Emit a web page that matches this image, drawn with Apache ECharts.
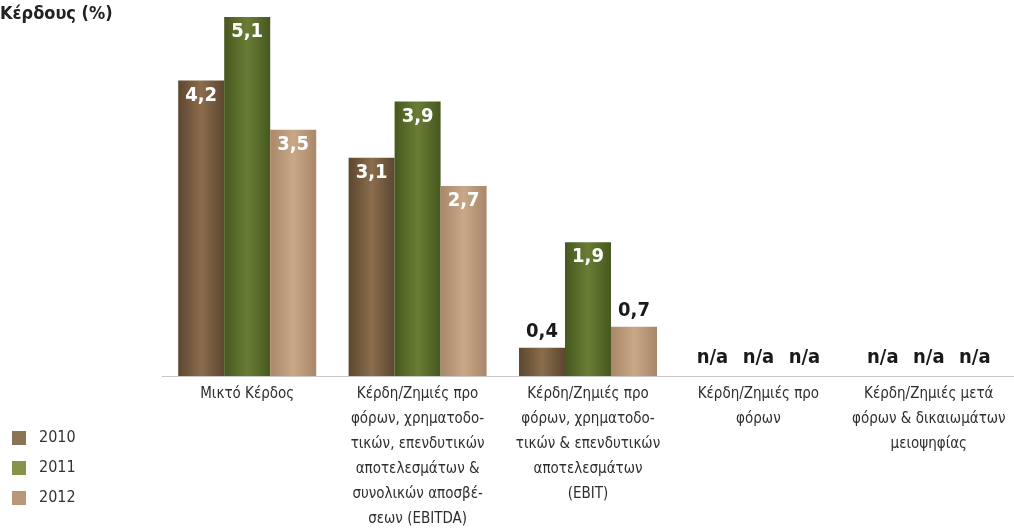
<!DOCTYPE html>
<html>
<head>
<meta charset="utf-8">
<style>html,body{margin:0;padding:0;background:#fff}#c{width:1014px;height:532px}</style>
<script src="https://cdn.jsdelivr.net/npm/echarts@6/dist/echarts.min.js"></script>
</head>
<body>
<div id="c"></div>
<script>
var categories = [
  'Μικτό Κέρδος',
  'Κέρδη/Ζημιές προ\nφόρων, χρηματοδο-\nτικών, επενδυτικών\nαποτελεσμάτων &\nσυνολικών αποσβέ-\nσεων (EBITDA)',
  'Κέρδη/Ζημιές προ\nφόρων, χρηματοδο-\nτικών & επενδυτικών\nαποτελεσμάτων\n(EBIT)',
  'Κέρδη/Ζημιές προ\nφόρων',
  'Κέρδη/Ζημιές μετά\nφόρων & δικαιωμάτων\nμειοψηφίας'
];
var years = ['2010', '2011', '2012'];
var values2010 = [4.2, 3.1, 0.4, null, null];
var values2011 = [5.1, 3.9, 1.9, null, null];
var values2012 = [3.5, 2.7, 0.7, null, null];
var titleText = 'Κέρδους (%)';

var FONT = "'DejaVu Sans Condensed','Liberation Sans Narrow','Liberation Sans',sans-serif";
var barColors = [
  ['#5c4730', '#8b6d4c', '#5c4730'],
  ['#46581f', '#6a7d35', '#46581f'],
  ['#a8876a', '#c9a888', '#a8876a']
];
var legendColors = ['#8b7355', '#85944a', '#b89878'];

function grad(c) {
  return new echarts.graphic.LinearGradient(0, 0, 1, 0, [
    {offset: 0, color: c[0]}, {offset: 0.5, color: c[1]}, {offset: 1, color: c[2]}
  ]);
}
function fmt(v) { return String(v).replace('.', ','); }
function mapData(arr) {
  return arr.map(function (v) {
    if (v === null) {
      return {value: 0, label: {show: true, position: 'top', distance: 8, color: '#1a1a1a', formatter: 'n/a'}};
    }
    if (v < 1) {
      return {value: v, label: {show: true, position: 'top', distance: 6, color: '#1a1a1a'}};
    }
    return v;
  });
}
var seriesData = [values2010, values2011, values2012];
var series = years.map(function (y, i) {
  return {
    name: y,
    type: 'bar',
    barWidth: 46,
    barGap: '0%',
    data: mapData(seriesData[i]),
    itemStyle: {color: grad(barColors[i])},
    label: {
      show: true,
      position: 'insideTop',
      distance: 5,
      color: '#ffffff',
      fontFamily: FONT,
      fontWeight: 'bold',
      fontSize: 20,
      formatter: function (p) { return fmt(p.value); }
    }
  };
});

var chart = echarts.init(document.getElementById('c'));
chart.setOption({
  animation: false,
  title: {
    text: titleText, left: 0, top: 5, padding: 0,
    textStyle: {fontFamily: FONT, fontWeight: 'bold', fontSize: 18, color: '#222'}
  },
  legend: {
    orient: 'vertical', left: 12, top: 430, padding: 0,
    itemWidth: 14, itemHeight: 14, itemGap: 14,
    icon: 'rect',
    textStyle: {fontFamily: FONT, fontSize: 16, color: '#333', padding: [0, 0, 0, 8]},
    data: years.map(function (y, i) { return {name: y, itemStyle: {color: legendColors[i]}}; })
  },
  grid: {left: 162, top: 3, width: 860, bottom: 155},
  xAxis: {
    type: 'category',
    data: categories,
    axisLine: {lineStyle: {color: '#c8c8c8', width: 1}},
    axisTick: {show: false},
    axisLabel: {
      interval: 0, margin: 6, color: '#2e2e2e',
      fontFamily: FONT, fontSize: 15, lineHeight: 25
    }
  },
  yAxis: {type: 'value', min: 0, max: 5.3, show: false, splitLine: {show: false}},
  series: series
});
</script>
</body>
</html>
